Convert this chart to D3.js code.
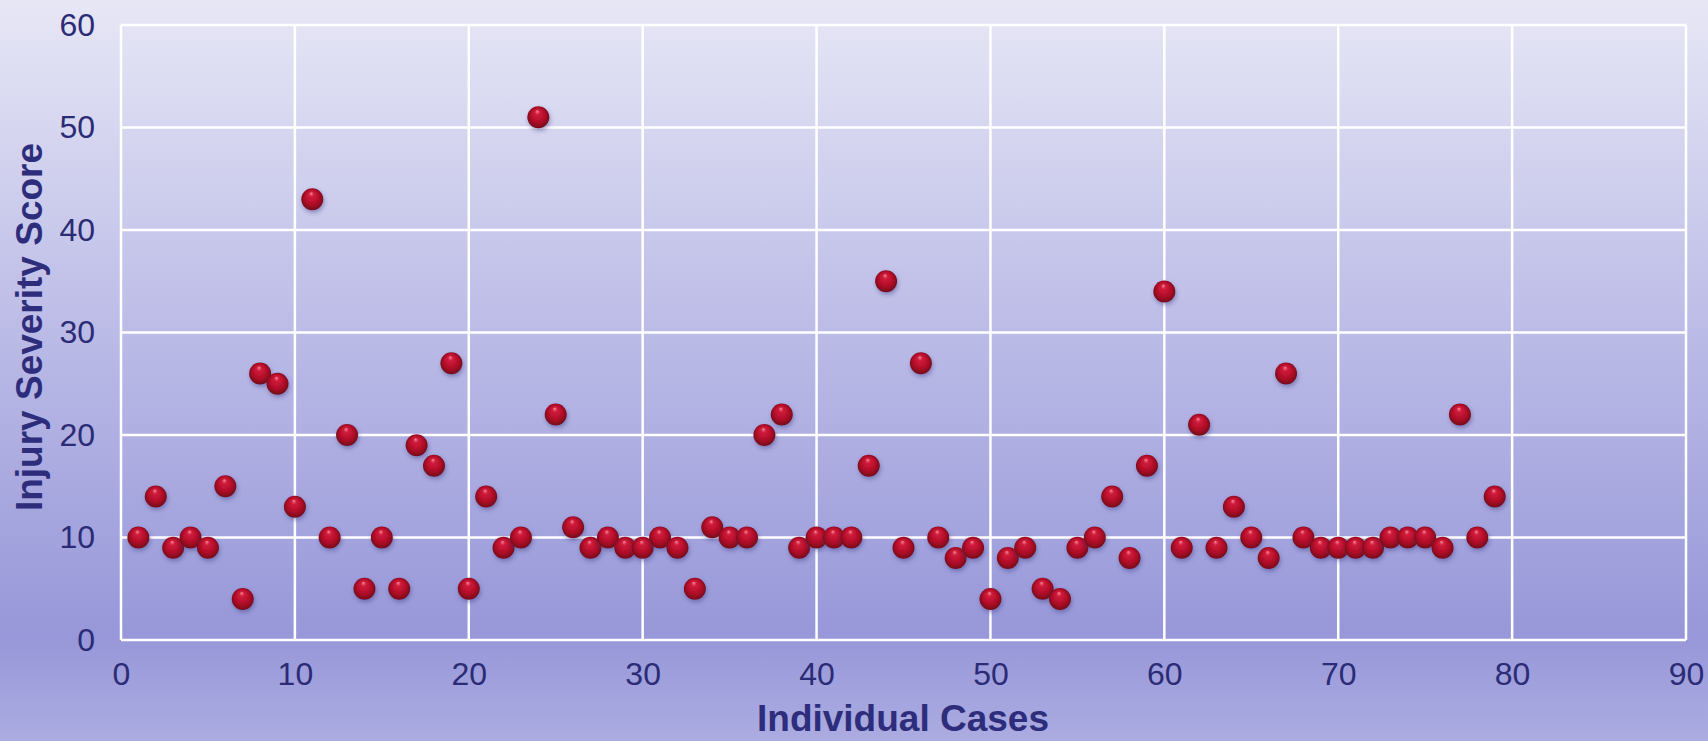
<!DOCTYPE html>
<html>
<head>
<meta charset="utf-8">
<script src="https://cdn.jsdelivr.net/npm/d3@7"></script>
<style>
  html, body { margin: 0; padding: 0; }
  body { width: 1708px; height: 741px; overflow: hidden; }
  svg { display: block; }
</style>
</head>
<body>
<svg id="chart" width="1708" height="741"></svg>
<script>
// ---- data ----
const cases = d3.range(1, 80);
const scores = [10, 14, 9, 10, 9, 15, 4, 26, 25, 13,
                43, 10, 20, 5, 10, 5, 19, 17, 27, 5,
                14, 9, 10, 51, 22, 11, 9, 10, 9, 9,
                10, 9, 5, 11, 10, 10, 20, 22, 9, 10,
                10, 10, 17, 35, 9, 27, 10, 8, 9, 4,
                8, 9, 5, 4, 9, 10, 14, 8, 17, 34,
                9, 21, 9, 13, 10, 8, 26, 10, 9, 9,
                9, 9, 10, 10, 10, 9, 22, 10, 14];
const xTicks = [0, 10, 20, 30, 40, 50, 60, 70, 80, 90];
const yTicks = [0, 10, 20, 30, 40, 50, 60];
const xTitle = "Individual Cases";
const yTitle = "Injury Severity Score";

(function () {
// ---- layout ----
const W = 1708, H = 741;
const pLeft = 121, pRight = 1686, pTop = 25, pBottom = 640;
const svg = d3.select("#chart");
const defs = svg.append("defs");

const bg = defs.append("linearGradient").attr("id", "bg")
  .attr("x1", 0).attr("y1", 0).attr("x2", 0).attr("y2", 1);
bg.append("stop").attr("offset", "0%").attr("stop-color", "#e7e7f6");
bg.append("stop").attr("offset", "45%").attr("stop-color", "#bbbbe7");
bg.append("stop").attr("offset", "86%").attr("stop-color", "#9797d9");
bg.append("stop").attr("offset", "100%").attr("stop-color", "#acace2");

const ball = defs.append("radialGradient").attr("id", "ball")
  .attr("cx", "50%").attr("cy", "50%").attr("r", "55%")
  .attr("fx", "45%").attr("fy", "22%");
ball.append("stop").attr("offset", "0%").attr("stop-color", "#f58b98");
ball.append("stop").attr("offset", "20%").attr("stop-color", "#d01c3c");
ball.append("stop").attr("offset", "62%").attr("stop-color", "#b00c28");
ball.append("stop").attr("offset", "100%").attr("stop-color", "#680515");

const sh = defs.append("filter").attr("id", "shadow")
  .attr("x", "-50%").attr("y", "-50%").attr("width", "200%").attr("height", "200%");
sh.append("feDropShadow").attr("dx", 1).attr("dy", 2.5).attr("stdDeviation", 2)
  .attr("flood-color", "#3a3a80").attr("flood-opacity", 0.45);

svg.append("rect").attr("width", W).attr("height", H).attr("fill", "url(#bg)");

const x = d3.scaleLinear().domain([0, 90]).range([pLeft, pRight]);
const y = d3.scaleLinear().domain([0, 60]).range([pBottom, pTop]);

// grid
const grid = svg.append("g");
grid.selectAll("line.v").data(xTicks).join("line").attr("class", "v")
  .attr("x1", d => x(d)).attr("x2", d => x(d))
  .attr("y1", y(0)).attr("y2", y(60))
  .attr("stroke", "#ffffff").attr("stroke-width", 2.5);
grid.selectAll("line.h").data(yTicks).join("line").attr("class", "h")
  .attr("x1", x(0)).attr("x2", x(90))
  .attr("y1", d => y(d)).attr("y2", d => y(d))
  .attr("stroke", "#ffffff").attr("stroke-width", 2.5);

// axes (labels via d3 axes, domain/ticks hidden)
const textColor = "#2b2b76";
const xAxis = svg.append("g").attr("transform", `translate(0,${pBottom})`)
  .call(d3.axisBottom(x).tickValues(xTicks).tickSize(0).tickPadding(22).tickFormat(d3.format("d")));
const yAxis = svg.append("g").attr("transform", `translate(${pLeft},0)`)
  .call(d3.axisLeft(y).tickValues(yTicks).tickSize(0).tickPadding(26).tickFormat(d3.format("d")));
[xAxis, yAxis].forEach(a => {
  a.select(".domain").remove();
  a.selectAll("text")
    .attr("fill", textColor)
    .style("font-family", "'Liberation Sans', Arial, sans-serif")
    .style("font-size", "32px");
});

// titles
svg.append("text")
  .attr("x", 903).attr("y", 731)
  .attr("text-anchor", "middle")
  .attr("fill", "#2d2d7c")
  .style("font-family", "'Liberation Sans', Arial, sans-serif")
  .style("font-weight", "bold").style("font-size", "37px")
  .text(xTitle);
svg.append("text")
  .attr("transform", `translate(42,327) rotate(-90)`)
  .attr("text-anchor", "middle")
  .attr("fill", "#2d2d7c")
  .style("font-family", "'Liberation Sans', Arial, sans-serif")
  .style("font-weight", "bold").style("font-size", "37px")
  .text(yTitle);

// points
svg.append("g").selectAll("circle").data(cases).join("circle")
  .attr("cx", d => x(d))
  .attr("cy", (d, i) => y(scores[i]))
  .attr("r", 11)
  .attr("fill", "url(#ball)")
  .attr("filter", "url(#shadow)");
})();
</script>
</body>
</html>
